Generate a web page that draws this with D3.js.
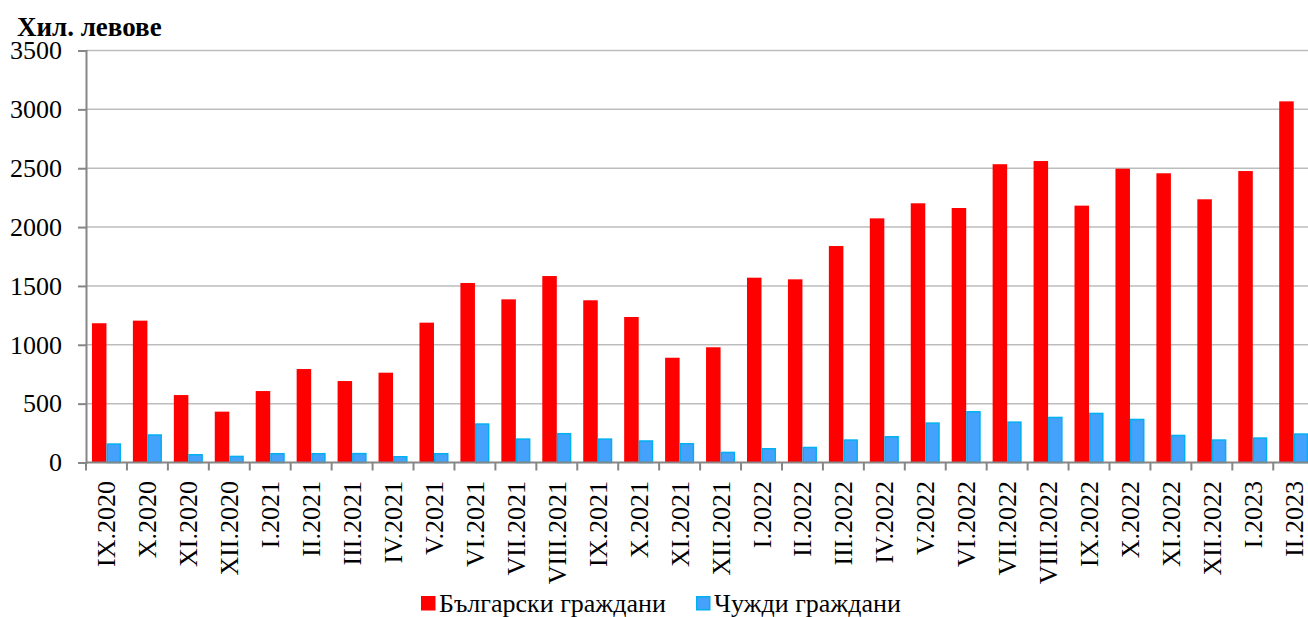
<!DOCTYPE html>
<html>
<head>
<meta charset="utf-8">
<script src="https://cdn.jsdelivr.net/npm/d3@7"></script>
<style>
  body { margin: 0; background: #fff; }
  text { font-family: "Liberation Serif", "Times New Roman", serif; fill: #000; }
</style>
</head>
<body>
<div id="chart"></div>
<script>
// месеци
var months = ["IX.2020", "X.2020", "XI.2020", "XII.2020", "I.2021", "II.2021", "III.2021", "IV.2021",
    "V.2021", "VI.2021", "VII.2021", "VIII.2021", "IX.2021", "X.2021", "XI.2021", "XII.2021",
    "I.2022", "II.2022", "III.2022", "IV.2022", "V.2022", "VI.2022", "VII.2022", "VIII.2022",
    "IX.2022", "X.2022", "XI.2022", "XII.2022", "I.2023", "II.2023"];

// Български граждани
var bulgarian = [1183, 1205, 573, 432, 607, 794, 692, 763, 1188, 1525, 1386, 1584, 1378, 1236,
    890, 979, 1570, 1556, 1839, 2074, 2202, 2162, 2534, 2561, 2182, 2496, 2457, 2236, 2476, 3068];

// Чужди граждани
var foreign = [163, 240, 72, 58, 81, 81, 82, 55, 81, 333, 205, 251, 205, 189,
    166, 92, 123, 134, 197, 225, 341, 437, 349, 389, 423, 372, 236, 197, 214, 248];

var yTicks = [0, 500, 1000, 1500, 2000, 2500, 3000, 3500];
var seriesNames = ["Български граждани", "Чужди граждани"];

var width = 1308, height = 617;
var plotLeft = 86, plotBottom = 462.5, plotTop = 50.5;
var step = 40.94;

var svg = d3.select("#chart").append("svg")
    .attr("width", width)
    .attr("height", height);

var x = d3.scaleBand()
    .domain(months)
    .range([plotLeft, plotLeft + step * months.length])
    .paddingInner(0)
    .paddingOuter(0);

var x1 = d3.scaleBand()
    .domain(["bg", "fg"])
    .range([0, x.bandwidth()])
    .paddingInner(0)
    .paddingOuter(0.41);

var y = d3.scaleLinear()
    .domain([0, 3500])
    .range([plotBottom, plotTop]);

// решетка
svg.append("g").selectAll("line")
    .data(yTicks.filter(function(d) { return d > 0; }))
    .enter().append("line")
    .attr("x1", plotLeft).attr("x2", width)
    .attr("y1", function(d) { return y(d); })
    .attr("y2", function(d) { return y(d); })
    .attr("stroke", "#bdbdbd")
    .attr("stroke-width", 1.5);

var groups = svg.append("g").selectAll("g")
    .data(months)
    .enter().append("g")
    .attr("transform", function(d) { return "translate(" + x(d) + ",0)"; });

groups.append("rect")
    .attr("x", x1("bg"))
    .attr("width", x1.bandwidth())
    .attr("y", function(d, i) { return y(bulgarian[i]); })
    .attr("height", function(d, i) { return plotBottom - y(bulgarian[i]); })
    .attr("fill", "#ff0000");

groups.append("rect")
    .attr("x", x1("fg") + 0.75)
    .attr("width", x1.bandwidth() - 1.5)
    .attr("y", function(d, i) { return y(foreign[i]) + 0.75; })
    .attr("height", function(d, i) { return Math.max(0, plotBottom - y(foreign[i]) - 0.75); })
    .attr("fill", "#44a2fc")
    .attr("stroke", "#00b0f0")
    .attr("stroke-width", 1.5);

// оста y
var yAxis = svg.append("g")
    .attr("transform", "translate(" + plotLeft + ",0)")
    .call(d3.axisLeft(y).tickValues(yTicks).tickSize(8).tickPadding(16).tickFormat(d3.format("d")));
yAxis.select(".domain").attr("stroke", "#868686").attr("stroke-width", 2);
yAxis.selectAll(".tick line").attr("stroke", "#868686").attr("stroke-width", 2);
yAxis.selectAll(".tick text")
    .style("font-size", "26px")
    .style("font-family", "'Liberation Serif', serif")
    .attr("fill", "#000");

// оста x
var boundaries = months.map(function(d) { return x(d); }).concat([x.range()[1]]);
var xAxis = svg.append("g");
xAxis.append("line")
    .attr("x1", plotLeft).attr("x2", width)
    .attr("y1", plotBottom).attr("y2", plotBottom)
    .attr("stroke", "#868686").attr("stroke-width", 2);
xAxis.selectAll("line.tk")
    .data(boundaries)
    .enter().append("line")
    .attr("class", "tk")
    .attr("x1", function(d) { return d; }).attr("x2", function(d) { return d; })
    .attr("y1", plotBottom).attr("y2", plotBottom + 8)
    .attr("stroke", "#868686").attr("stroke-width", 2);

xAxis.selectAll("text")
    .data(months)
    .enter().append("text")
    .attr("transform", function(d) {
        return "translate(" + (x(d) + x.bandwidth() / 2 + 9) + ",481) rotate(-90)";
    })
    .attr("text-anchor", "end")
    .style("font-size", "26px")
    .text(function(d) { return d; });

// заглавие
svg.append("text")
    .attr("x", 17).attr("y", 36)
    .style("font-size", "27px")
    .style("font-weight", "bold")
    .text("Хил. левове");

// легенда
var legendX = [421, 696];
var legendColors = [["#ff0000", "#ff0000"], ["#44a2fc", "#00b0f0"]];
var legend = svg.append("g").selectAll("g")
    .data(seriesNames)
    .enter().append("g")
    .attr("transform", function(d, i) { return "translate(" + legendX[i] + ",596)"; });
legend.append("rect")
    .attr("x", 0.75).attr("y", 0.75)
    .attr("width", 13).attr("height", 13)
    .attr("fill", function(d, i) { return legendColors[i][0]; })
    .attr("stroke", function(d, i) { return legendColors[i][1]; })
    .attr("stroke-width", 1.5);
legend.append("text")
    .attr("x", 18).attr("y", 16)
    .style("font-size", "26px")
    .text(function(d) { return d; });
</script>
</body>
</html>
